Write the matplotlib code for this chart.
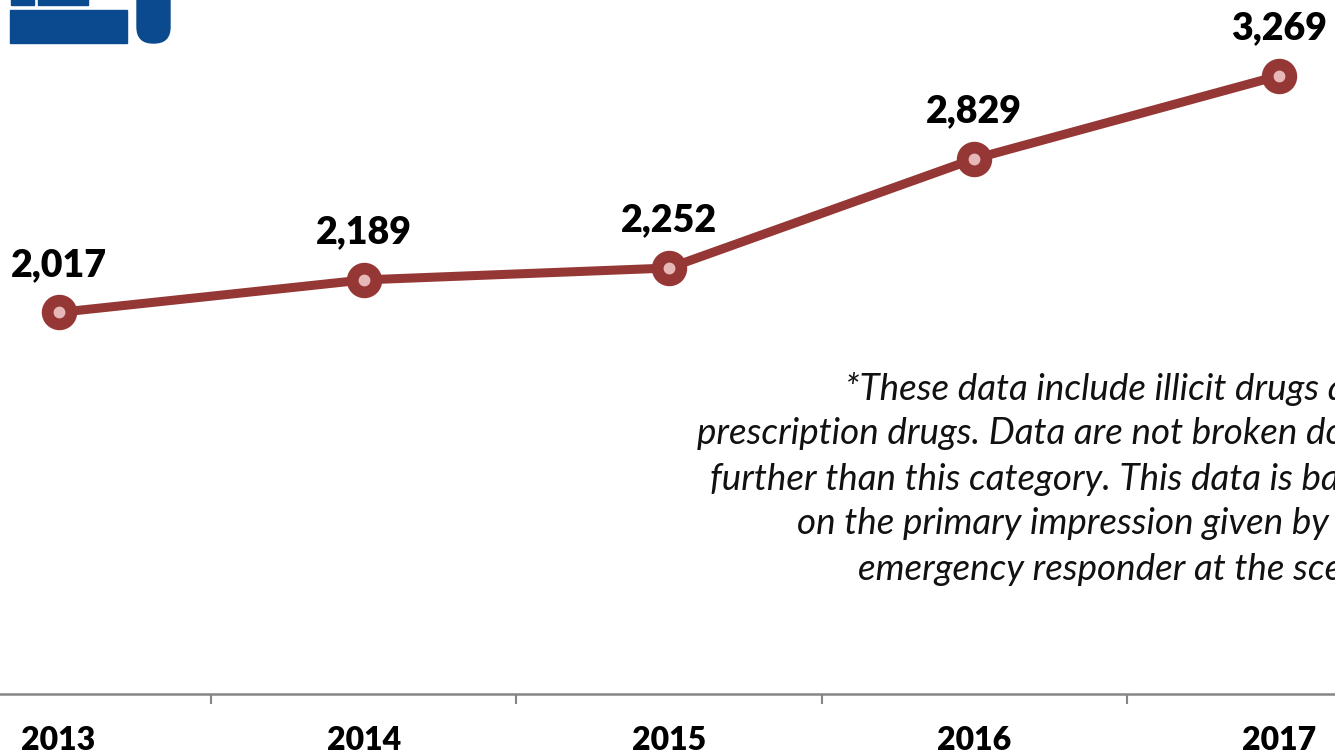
import matplotlib.pyplot as plt
from matplotlib.patches import Rectangle, FancyBboxPatch

years = ["2013", "2014", "2015", "2016", "2017"]
overdoses = [2017, 2189, 2252, 2829, 3269]
note_lines = [
    "*These data include illicit drugs and",
    "prescription drugs. Data are not broken down",
    "further than this category. This data is based",
    "on the primary impression given by the",
    "emergency responder at the scene.",
]

W, H = 1335, 756
fig = plt.figure(figsize=(W / 100, H / 100), dpi=100)

# plot area runs past both edges of the slide
ax = fig.add_axes([-94 / W, 62 / H, 1526 / W, 681 / H])
x = list(range(len(years)))
ax.plot(x, overdoses, color="#953735", lw=6.5, solid_capstyle="round", zorder=2)
ax.plot(x, overdoses, "o", ms=24.5, mfc="#953735", mec="#953735", zorder=3)
ax.plot(x, overdoses, "o", ms=7.5, mfc="#E6B9B8", mec="#E6B9B8", zorder=4)

for xi, v in zip(x, overdoses):
    ax.annotate(f"{v:,}", (xi, v), xytext=(0, 22), textcoords="offset points",
                ha="center", va="bottom", fontsize=27, fontweight="heavy",
                family="Lato", color="black")

ax.set_xlim(-0.5, len(years) - 0.5)
ax.set_ylim(0, 3600)
ax.set_xticks(x)
ax.set_xticklabels(years, fontsize=23, fontweight="heavy", family="Lato")
ax.set_xticks([i + 0.5 for i in x[:-1]], minor=True)
ax.tick_params(axis="x", which="major", length=0, pad=23)
ax.tick_params(axis="x", which="minor", length=7, width=1.5, color="#868686")
ax.set_yticks([])
for s in ["top", "left", "right"]:
    ax.spines[s].set_visible(False)
ax.spines["bottom"].set_color("#868686")
ax.spines["bottom"].set_linewidth(1.8)

# footnote, centred lines (right ends run off the slide)
line_left = [845, 697, 710, 797, 858]
for i, (txt, lx) in enumerate(zip(note_lines, line_left)):
    fig.text(lx / W, 1 - (389 + 45 * i) / H, txt, ha="left", va="center",
             fontsize=26.5, style="italic", family="Lato", color="#111111")

# corner of the logo
logo = "#0B4A8E"
fig.patches.append(Rectangle((10 / W, 1 - 43 / H), 117 / W, 33 / H,
                             transform=fig.transFigure, color=logo))
fig.patches.append(Rectangle((11 / W, 1 - 5 / H), 23 / W, 6 / H,
                             transform=fig.transFigure, color=logo))
fig.patches.append(Rectangle((38 / W, 1 - 5 / H), 50 / W, 6 / H,
                             transform=fig.transFigure, color=logo))
fig.patches.append(FancyBboxPatch((137 / W, 1 - 43 / H), 33 / W, 60 / H,
                                  boxstyle="round,pad=0,rounding_size=0.012",
                                  transform=fig.transFigure, color=logo,
                                  mutation_aspect=W / H))

fig.savefig("out.png", dpi=100)
